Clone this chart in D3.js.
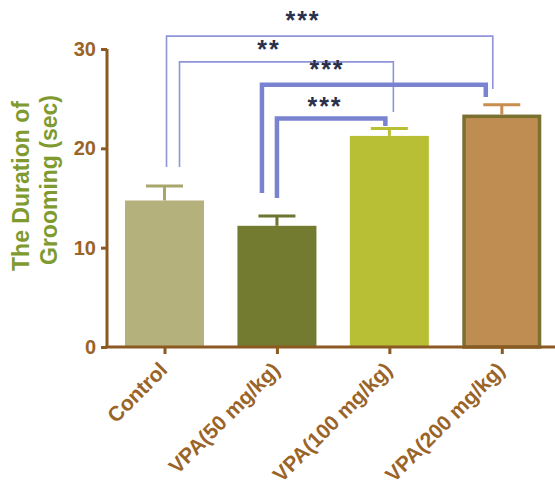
<!DOCTYPE html>
<html>
<head>
<meta charset="utf-8">
<script src="https://cdn.jsdelivr.net/npm/d3@7"></script>
<style>
  html, body { margin: 0; padding: 0; background: #ffffff; }
  svg { display: block; }
</style>
</head>
<body>
<svg id="chart" width="555" height="492"></svg>
<script>
(function () {
'use strict';

// data
var groups = ['Control', 'VPA(50 mg/kg)', 'VPA(100 mg/kg)', 'VPA(200 mg/kg)'];
var means = [14.75, 12.2, 21.25, 23.4];
var sems = [1.45, 1.0, 0.75, 1.0];
var yTicks = [0, 10, 20, 30];

// significance brackets: from group, to group, stars, bracket top (value units)
var sigFrom = [0, 0, 1, 1];
var sigTo = [3, 2, 3, 2];
var sigLabel = ['***', '**', '***', '***'];
var sigTop = [31.3, 28.7, 26.4, 23.0];

var WIDTH = 555;
var AXIS_X = 107;
var BAR_WIDTH = 79;
var CAP_WIDTH = 37;

var AXIS_COLOR = '#8b5a22';
var TICK_COLOR = '#9a6428';
var LABEL_COLOR = '#7f9a2f';
var THIN_COLOR = '#8e94da';
var THICK_COLOR = '#7a83d0';
var STAR_COLOR = '#2b2f4a';
var FONT = '"Liberation Sans", Arial, Helvetica, sans-serif';

var barFill = ['#b5b17c', '#737b30', '#b8bf34', '#bf8c52'];
var errColor = ['#a9a66c', '#6e7530', '#b8bf34', '#c98d4f'];
var barStroke = [null, null, null, '#7a7030'];

var svg = d3.select('#chart');

var x = d3.scalePoint()
    .domain(groups)
    .range([108.3, 558])
    .padding(0.5);

var y = d3.scaleLinear()
    .domain([0, 30])
    .range([347, 49]);

// bars
groups.forEach(function (g, i) {
    var sw = barStroke[i] ? 3.5 : 0;
    svg.append('rect')
        .attr('x', x(g) - BAR_WIDTH / 2 + sw / 2)
        .attr('y', y(means[i]) + sw / 2)
        .attr('width', BAR_WIDTH - sw)
        .attr('height', y(0) - y(means[i]) - sw / 2)
        .attr('fill', barFill[i])
        .attr('stroke', barStroke[i] || 'none')
        .attr('stroke-width', sw);

    // error bar, upper half only
    var top = y(means[i] + sems[i]);
    svg.append('line')
        .attr('x1', x(g)).attr('x2', x(g))
        .attr('y1', y(means[i])).attr('y2', top)
        .attr('stroke', errColor[i])
        .attr('stroke-width', 3);
    svg.append('line')
        .attr('x1', x(g) - CAP_WIDTH / 2).attr('x2', x(g) + CAP_WIDTH / 2)
        .attr('y1', top).attr('y2', top)
        .attr('stroke', errColor[i])
        .attr('stroke-width', 3);
});

// y axis
var yAxis = svg.append('g')
    .attr('transform', 'translate(' + AXIS_X + ',0)')
    .call(d3.axisLeft(y).tickValues(yTicks).tickSize(6).tickPadding(5));
yAxis.select('.domain')
    .attr('stroke', AXIS_COLOR)
    .attr('stroke-width', 3)
    .attr('d', 'M0,' + y(30) + 'V' + y(0));
yAxis.selectAll('.tick line')
    .attr('stroke', AXIS_COLOR)
    .attr('stroke-width', 3);
yAxis.selectAll('.tick text')
    .attr('fill', TICK_COLOR)
    .style('font-family', FONT)
    .style('font-size', '20px')
    .style('font-weight', 'bold');

// x axis
var xAxis = svg.append('g')
    .attr('transform', 'translate(0,' + y(0) + ')')
    .call(d3.axisBottom(x).tickSize(7).tickFormat(''));
xAxis.select('.domain')
    .attr('stroke', AXIS_COLOR)
    .attr('stroke-width', 3)
    .attr('d', 'M' + (AXIS_X - 1.5) + ',0H' + WIDTH);
xAxis.selectAll('.tick line')
    .attr('stroke', AXIS_COLOR)
    .attr('stroke-width', 3);

// rotated category labels
groups.forEach(function (g) {
    svg.append('text')
        .attr('transform', 'translate(' + (x(g) - 1) + ',' + (y(0) + 19) + ') rotate(-45)')
        .attr('text-anchor', 'end')
        .attr('dy', '0.35em')
        .attr('fill', TICK_COLOR)
        .style('font-family', FONT)
        .style('font-size', '21px')
        .style('font-weight', 'bold')
        .text(g);
});

// y axis title, two lines
var yTitle = svg.append('text')
    .attr('transform', 'translate(29,186) rotate(-90)')
    .attr('text-anchor', 'middle')
    .attr('fill', LABEL_COLOR)
    .style('font-family', FONT)
    .style('font-size', '23px')
    .style('font-weight', 'bold');
yTitle.append('tspan').attr('x', 0).attr('dy', 0).text('The Duration of');
yTitle.append('tspan').attr('x', 6).attr('dy', 28).text('Grooming (sec)');

// significance brackets
var thick = [false, false, true, true];
var leftOff = [2, 15, -15, 0];
var rightOff = [-9, 4, -16, -4];
var leftDrop = [167, 167, 193, 198];
var rightDrop = [89, 112, 97, 126];
var starX = [303, 269, 327, 325];
var starGap = [7, 4, 7, 4];

sigFrom.forEach(function (f, i) {
    var xl = x(groups[f]) + leftOff[i];
    var xr = x(groups[sigTo[i]]) + rightOff[i];
    var yt = y(sigTop[i]);
    svg.append('path')
        .attr('d', 'M' + xl + ',' + leftDrop[i] + 'V' + yt + 'H' + xr + 'V' + rightDrop[i])
        .attr('fill', 'none')
        .attr('stroke', thick[i] ? THICK_COLOR : THIN_COLOR)
        .attr('stroke-width', thick[i] ? 4.5 : 1.6);
    svg.append('text')
        .attr('x', starX[i])
        .attr('y', yt - starGap[i])
        .attr('text-anchor', 'middle')
        .attr('fill', STAR_COLOR)
        .style('font-family', FONT)
        .style('font-size', '25px')
        .style('font-weight', 'bold')
        .style('letter-spacing', '2px')
        .text(sigLabel[i]);
});
})();
</script>
</body>
</html>
